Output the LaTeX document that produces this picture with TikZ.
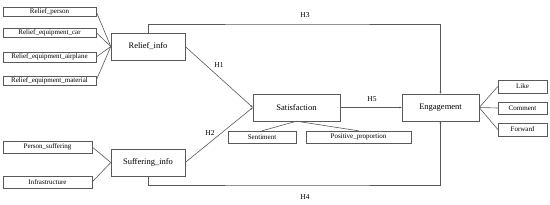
\documentclass[tikz,border=0pt]{standalone}
\usepackage{fontspec}
\setmainfont{Liberation Serif}
\usetikzlibrary{arrows.meta}
\begin{document}
\begin{tikzpicture}[
x=1pt, y=-1pt,
every node/.style={font=\fontsize{7.5}{8}\selectfont},
box/.style={draw=black!65, rectangle, inner sep=1pt, fill=white, font=\fontsize{7}{8}\selectfont},
bigbox/.style={box, minimum height=27pt, font=\fontsize{8.5}{9}\selectfont},
link/.style={draw=black!65, line width=0.6pt},
arr/.style={link, -{Latex[length=2.2pt,width=2.2pt]}}
]
\useasboundingbox (0,0) rectangle (550,204);

% relief indicators
\node[box, minimum width=93pt, minimum height=9pt] (rperson) at (49.5,11.5) {Relief\_person};
\node[box, minimum width=93pt, minimum height=9pt] (rcar) at (49.5,32.5) {Relief\_equipment\_car};
\node[box, minimum width=93pt, minimum height=10pt] (rairplane) at (49.5,57) {Relief\_equipment\_airplane};
\node[box, minimum width=93pt, minimum height=9pt] (rmaterial) at (49.5,80.5) {Relief\_equipment\_material};
\node[bigbox, minimum width=74pt] (reliefinfo) at (148,46.5) {Relief\_info};

% suffering indicators
\node[box, minimum width=89pt, minimum height=12pt] (psuffering) at (47.5,147) {Person\_suffering};
\node[box, minimum width=89pt, minimum height=12pt] (infra) at (47.5,182) {Infrastructure};
\node[bigbox, minimum width=74pt] (sufferinginfo) at (148,162.5) {Suffering\_info};

% satisfaction
\node[bigbox, minimum width=87pt] (satisfaction) at (296.5,107.5) {Satisfaction};
\node[box, minimum width=68pt, minimum height=12pt] (sentiment) at (262,137) {Sentiment};
\node[box, minimum width=105pt, minimum height=12pt] (posprop) at (358.5,137) {Positive\_proportion};

% engagement
\node[bigbox, minimum width=77pt] (engagement) at (440.5,107.5) {Engagement};
\node[box, minimum width=49pt, minimum height=13pt] (like) at (522.5,86.5) {Like};
\node[box, minimum width=49pt, minimum height=12pt] (comment) at (522.5,108) {Comment};
\node[box, minimum width=49pt, minimum height=13pt] (forward) at (522.5,129.5) {Forward};

\coordinate (h3) at (300,24);
\coordinate (h4) at (300,185);

\foreach \n in {rperson, rcar, rairplane, rmaterial}
    \draw[link] (\n.east) -- (reliefinfo.west);
\foreach \n in {psuffering, infra}
    \draw[link] (\n.east) -- (sufferinginfo.west);
\foreach \n in {sentiment, posprop}
    \draw[link] (satisfaction.south) -- (\n.north);
\foreach \n in {like, comment, forward}
    \draw[link] (engagement.east) -- (\n.west);

\draw[arr] (reliefinfo.east) -- (satisfaction.west);
\draw[arr] (sufferinginfo.east) -- (satisfaction.west);
\draw[arr] (satisfaction.east) -- (engagement.west);
\draw[arr] (reliefinfo.north) |- (h3) -| (engagement.north);
\draw[arr] (sufferinginfo.south) |- (h4) -| (engagement.south);

% hypothesis labels
\node (lh1) at (219,65) {H1};
\node (lh2) at (210,133) {H2};
\node (lh3) at (305,15) {H3};
\node (lh4) at (305,197) {H4};
\node (lh5) at (372,99) {H5};

\end{tikzpicture}
\end{document}
